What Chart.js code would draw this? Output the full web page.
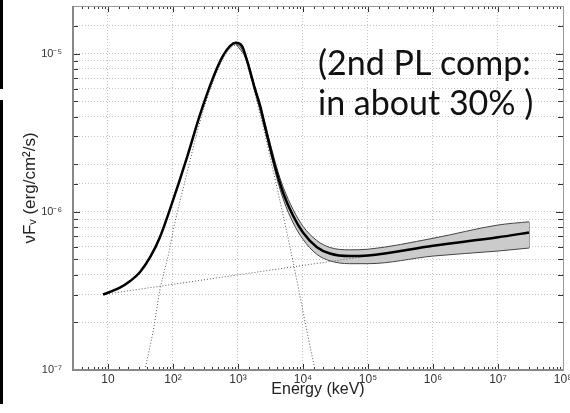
<!DOCTYPE html>
<html>
<head>
<meta charset="utf-8">
<script src="https://cdn.jsdelivr.net/npm/chart.js@4.4.1/dist/chart.umd.min.js"></script>
<style>
html, body { margin: 0; padding: 0; background: #fff; }
#wrap { position: relative; width: 570px; height: 413px; }
.bar { position: absolute; left: 0; width: 3px; background: #000; }
</style>
</head>
<body>
<div id="wrap">
  <canvas id="chart" width="570" height="413"></canvas>
  <div class="bar" style="top:0;height:89px"></div>
  <div class="bar" style="top:100px;height:304px"></div>
</div>
<script>
// total model (Band + PL), energy in keV, nuFnu in erg/cm2/s
const mainE = [8.4, 15, 22, 31, 45, 63, 100, 164, 260, 412, 590, 760, 930, 1150, 1350, 1820, 2190, 2600, 3090, 3940, 5010, 7080, 10000, 16200, 26000, 52000, 100000, 1e6, 1e7, 3e7];
const mainF = [3.0e-7, 3.3e-7, 3.65e-7, 4.15e-7, 5.2e-7, 6.9e-7, 1.18e-6, 2.2e-6, 4.1e-6, 7.0e-6, 9.7e-6, 1.12e-5, 1.17e-5, 1.12e-5, 9.3e-6, 6.0e-6, 4.7e-6, 3.48e-6, 2.59e-6, 1.78e-6, 1.3e-6, 9.4e-7, 7.4e-7, 6.0e-7, 5.45e-7, 5.25e-7, 5.3e-7, 6.1e-7, 6.9e-7, 7.4e-7];

// error band around the total model
const bandE = [930, 1350, 1820, 2600, 3940, 5010, 7080, 10000, 16200, 26000, 52000, 100000, 1e6, 1e7, 3e7];
const bandUpper = [1.19e-5, 9.5e-6, 6.2e-6, 3.65e-6, 1.91e-6, 1.42e-6, 1.03e-6, 8.1e-7, 6.6e-7, 5.95e-7, 5.75e-7, 5.8e-7, 6.8e-7, 8.25e-7, 8.65e-7];
const bandLower = [1.15e-5, 9.1e-6, 5.8e-6, 3.32e-6, 1.65e-6, 1.19e-6, 8.5e-7, 6.7e-7, 5.4e-7, 4.9e-7, 4.7e-7, 4.7e-7, 5.25e-7, 5.65e-7, 5.9e-7];

// Band function component (dotted)
const bandCompE = [37, 50, 63, 89, 100, 164, 260, 412, 590, 760, 930, 1150, 1350, 1820, 2600, 3160, 3980, 5010, 6310, 8910, 11200, 15300];
const bandCompF = [1.0e-7, 1.8e-7, 3.2e-7, 5.8e-7, 7.5e-7, 1.75e-6, 3.7e-6, 6.6e-6, 9.3e-6, 1.08e-5, 1.13e-5, 1.08e-5, 8.9e-6, 5.6e-6, 3.1e-6, 2.15e-6, 1.43e-6, 9.3e-7, 6.0e-7, 3.0e-7, 1.86e-7, 1.0e-7];

// power-law component (dotted)
const plE = [8.4, 3e7];
const plF = [3.0e-7, 7.4e-7];

// axis ticks
const xTickValues = [10, 100, 1e3, 1e4, 1e5, 1e6, 1e7, 1e8];
const xTickText = ['10', '10²', '10³', '10⁴', '10⁵', '10⁶', '10⁷', '10⁸'];
const yTickValues = [1e-7, 1e-6, 1e-5];
const yTickText = ['10⁻⁷', '10⁻⁶', '10⁻⁵'];

const noteLines = ['(2nd PL comp:', 'in about 30% )'];

function pts(xs, ys) {
    return xs.map((x, i) => ({x: x, y: ys[i]}));
}
function isDecade(v) {
    const l = Math.log10(v);
    return Math.abs(l - Math.round(l)) < 1e-6;
}
function labelFor(v, values, texts) {
    for (let i = 0; i < values.length; i++) {
        if (Math.abs(Math.log10(v) - Math.log10(values[i])) < 1e-6) return texts[i];
    }
    return '';
}

const frame = {
    id: 'frame',
    afterDraw(chart) {
        const c = chart.ctx;
        const a = chart.chartArea;
        c.save();
        // inner tick marks
        c.strokeStyle = '#333';
        c.lineWidth = 1;
        chart.scales.x.ticks.forEach(t => {
            const px = Math.round(chart.scales.x.getPixelForValue(t.value)) + 0.5;
            const len = isDecade(t.value) ? 6 : 3;
            c.beginPath();
            c.moveTo(px, a.bottom); c.lineTo(px, a.bottom - len);
            c.moveTo(px, a.top); c.lineTo(px, a.top + len);
            c.stroke();
        });
        chart.scales.y.ticks.forEach(t => {
            const py = Math.round(chart.scales.y.getPixelForValue(t.value)) + 0.5;
            const len = isDecade(t.value) ? 7 : 5;
            c.beginPath();
            c.moveTo(a.left, py); c.lineTo(a.left + len, py);
            c.moveTo(a.right, py); c.lineTo(a.right - len, py);
            c.stroke();
        });
        // box
        c.strokeStyle = '#999';
        c.lineWidth = 1;
        c.strokeRect(a.left + 0.5, a.top + 0.5, a.right - a.left, a.bottom - a.top);
        c.strokeStyle = '#888';
        c.lineWidth = 2;
        c.beginPath();
        c.moveTo(a.left, a.top); c.lineTo(a.left, a.bottom); c.lineTo(a.right, a.bottom);
        c.stroke();
        // annotation
        c.fillStyle = '#111';
        c.font = '34px Lato';
        c.textBaseline = 'alphabetic';
        c.fillText(noteLines[0], 318, 75);
        c.fillText(noteLines[1], 318, 115);
        c.restore();
    }
};

const dotted = {borderColor: '#555', borderWidth: 1, borderDash: [1, 2], pointRadius: 0, fill: false, order: 2};

new Chart('chart', {
    type: 'line',
    data: {
        datasets: [
            {data: pts(bandE, bandLower), borderColor: '#444', borderWidth: 1, pointRadius: 0, fill: false, cubicInterpolationMode: 'monotone', order: 3},
            {data: pts(bandE, bandUpper), borderColor: '#444', borderWidth: 1, pointRadius: 0, fill: '-1', backgroundColor: '#cbcbcb', cubicInterpolationMode: 'monotone', order: 3},
            {data: [{x: bandE[bandE.length - 1], y: bandLower[bandLower.length - 1]}, {x: bandE[bandE.length - 1], y: bandUpper[bandUpper.length - 1]}],
             borderColor: '#444', borderWidth: 1, pointRadius: 0, fill: false, order: 3},
            Object.assign({data: pts(bandCompE, bandCompF), cubicInterpolationMode: 'monotone'}, dotted),
            Object.assign({data: pts(plE, plF)}, dotted),
            {data: pts(mainE, mainF), borderColor: '#000', borderWidth: 2.5, pointRadius: 0, fill: false, cubicInterpolationMode: 'monotone', order: 1}
        ]
    },
    options: {
        responsive: false,
        animation: false,
        layout: {padding: {left: 0, right: 7, top: 6, bottom: 0}},
        plugins: {legend: {display: false}, tooltip: {enabled: false}},
        scales: {
            x: {
                type: 'logarithmic',
                min: 2.9,
                max: 1e8,
                afterFit(s) { s.height = 43; s.paddingLeft = 0; s.paddingRight = 0; },
                grid: {
                    drawTicks: false,
                    color: ctx => (ctx.tick && isDecade(ctx.tick.value)) ? '#c4c4c4' : 'rgba(0,0,0,0)'
                },
                border: {display: false, dash: [1, 2]},
                ticks: {
                    autoSkip: false,
                    maxRotation: 0,
                    padding: 2,
                    color: '#333',
                    font: {family: 'Liberation Sans', size: 12},
                    callback: v => labelFor(v, xTickValues, xTickText)
                },
                title: {
                    display: true,
                    text: 'Energy (keV)',
                    color: '#222',
                    font: {family: 'Liberation Sans', size: 16},
                    padding: {top: 14, bottom: 14}
                }
            },
            y: {
                type: 'logarithmic',
                min: 1e-7,
                max: 2e-5,
                afterFit(s) { s.width = 73; s.paddingTop = 0; s.paddingBottom = 0; },
                grid: {drawTicks: false, color: '#c4c4c4'},
                border: {display: false, dash: [1, 2]},
                ticks: {
                    autoSkip: false,
                    padding: 11,
                    color: '#333',
                    font: {family: 'Liberation Sans', size: 11},
                    callback: v => labelFor(v, yTickValues, yTickText)
                },
                title: {
                    display: true,
                    text: 'νFᵥ (erg/cm²/s)',
                    color: '#222',
                    font: {family: 'Liberation Sans', size: 17},
                    padding: {top: 20, bottom: 20}
                }
            }
        }
    },
    plugins: [frame]
});
</script>
</body>
</html>
